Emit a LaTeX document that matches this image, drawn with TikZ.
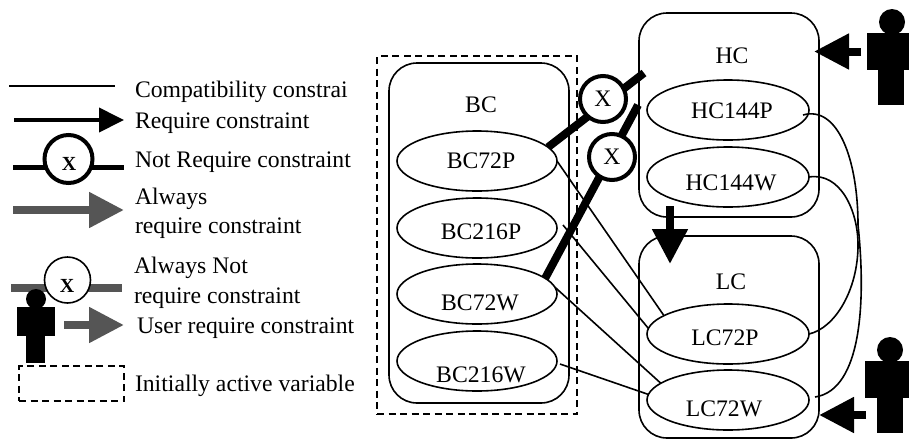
\documentclass[tikz,border=0pt]{standalone}
\usepackage{fontspec}
\setmainfont{Liberation Serif}
\usetikzlibrary{arrows.meta,shapes.geometric}
\definecolor{grayc}{HTML}{555555}
\tikzset{
  txt/.style={inner sep=0pt,outer sep=0pt,anchor=base west,font=\fontsize{23.7}{28}\selectfont},
  vartxt/.style={inner sep=0pt,outer sep=0pt,anchor=base,font=\fontsize{23.7}{28}\selectfont},
  xbold/.style={inner sep=0pt,outer sep=0pt,anchor=base,font=\fontsize{20}{24}\selectfont\bfseries},
  evar/.style={draw,ellipse,line width=1.6pt,inner sep=0pt,outer sep=0pt,minimum width=160pt,minimum height=60pt},
  ebox/.style={draw,rectangle,rounded corners=28pt,line width=1.6pt,inner sep=0pt,outer sep=0pt,minimum width=180pt},
  xcirc/.style={draw,circle,fill=white,line width=4pt,inner sep=0pt,outer sep=0pt,minimum size=46pt,font=\fontsize{23.7}{28}\selectfont},
  xcircthin/.style={draw,circle,fill=white,line width=1.6pt,inner sep=0pt,outer sep=0pt,minimum size=46pt},
  thinline/.style={line width=1.6pt},
  thickline/.style={line width=8pt},
  reqarrow/.style={line width=4pt,-{Triangle[length=25pt,width=24pt]}},
  bigarrow/.style={line width=8pt,-{Triangle[length=35pt,width=34pt]}},
  grayarrow/.style={line width=8pt,color=grayc,-{Triangle[length=35pt,width=34pt]}},
  dashedbox/.style={draw,line width=2pt,dash pattern=on 7pt off 4.5pt},
  headp/.style={fill=black,circle,inner sep=0pt,outer sep=0pt},
  bodyp/.style={fill=black,rectangle,inner sep=0pt,outer sep=0pt,anchor=north west}
}
\begin{document}
\begin{tikzpicture}[x=1pt,y=-1pt]
\useasboundingbox (0,0) rectangle (909,440);
% legend
\coordinate (l1a) at (9,85.7); \coordinate (l1b) at (115,85.7);
\draw[thinline] (l1a) -- (l1b);
\coordinate (l2a) at (14,120); \coordinate (l2b) at (124,120);
\draw[reqarrow] (l2a) -- (l2b);
\coordinate (l3a) at (13,167); \coordinate (l3b) at (124,167);
\draw[line width=5pt] (l3a) -- (l3b);
\node[xcirc,minimum size=48pt] (lx1) at (68.5,159) {};
\node[xbold] (lx1t) at (69,170) {X};
\coordinate (l4a) at (13,210); \coordinate (l4b) at (124,210);
\draw[grayarrow] (l4a) -- (l4b);
\coordinate (l5a) at (11,288); \coordinate (l5b) at (122,288);
\draw[line width=8pt,color=grayc] (l5a) -- (l5b);
\node[xcircthin] (lx2) at (67.5,280) {};
\node[xbold] (lx2t) at (67,292) {X};
\node[headp,minimum size=20pt] (lph) at (36,299) {};
\node[bodyp,minimum width=38pt,minimum height=29pt] (lpb) at (17,307) {};
\node[bodyp,minimum width=19pt,minimum height=28pt] (lpl) at (26,335) {};
\coordinate (l6a) at (64,325); \coordinate (l6b) at (124,325);
\draw[grayarrow] (l6a) -- (l6b);
\node[dashedbox,rectangle,inner sep=0pt,outer sep=0pt,minimum width=105pt,minimum height=35pt,anchor=north west] (ldash) at (19,366) {};
\node[txt] (t1) at (135,97) {Compatibility constrai};
\node[txt] (t2) at (135,128) {Require constraint};
\node[txt] (t3) at (135,167) {Not Require constraint};
\node[txt] (t4) at (135,204) {Always};
\node[txt] (t5) at (135,233) {require constraint};
\node[txt] (t6) at (134,273) {Always Not};
\node[txt] (t7) at (134,303) {require constraint};
\node[txt] (t8) at (137,333) {User require constraint};
\node[txt] (t9) at (135,391) {Initially active variable};
% BC
\node[dashedbox,rectangle,inner sep=0pt,outer sep=0pt,minimum width=200pt,minimum height=358pt,anchor=north west] (bcdash) at (377,56) {};
\node[ebox,minimum height=340pt,anchor=north west] (BC) at (389,63) {};
\node[vartxt] (tBC) at (481,112) {BC};
\node[evar] (BC72P) at (477,161) {};
\node[vartxt] (tBC72P) at (481,168) {BC72P};
\node[evar] (BC216P) at (477,228) {};
\node[vartxt] (tBC216P) at (481,239) {BC216P};
\node[evar] (BC72W) at (477,294) {};
\node[vartxt] (tBC72W) at (480,310) {BC72W};
\node[evar] (BC216W) at (477,361) {};
\node[vartxt] (tBC216W) at (481,382) {BC216W};
% HC
\node[ebox,minimum height=204pt,anchor=north west] (HC) at (639,13) {};
\node[vartxt] (tHC) at (732,63) {HC};
\node[evar,minimum width=162pt] (HC144P) at (728,110) {};
\node[vartxt] (tHC144P) at (732,118) {HC144P};
\node[evar,minimum width=162pt] (HC144W) at (728,177) {};
\node[vartxt] (tHC144W) at (731,190) {HC144W};
% LC
\node[ebox,minimum height=202pt,anchor=north west] (LC) at (639,236) {};
\node[vartxt] (tLC) at (731,289) {LC};
\node[evar,minimum width=162pt] (LC72P) at (728,334) {};
\node[vartxt] (tLC72P) at (725,345) {LC72P};
\node[evar,minimum width=162pt] (LC72W) at (728,400) {};
\node[vartxt] (tLC72W) at (724,416) {LC72W};
% thin connectors
\draw[thinline] (BC72P.east) -- (LC72P.164);
\draw[thinline] ([xshift=6pt,yshift=3pt]BC216P.east) -- (LC72P.176);
\draw[thinline] (BC72W.5) -- (LC72W.166);
\draw[thinline] ([xshift=3pt,yshift=-3pt]BC216W.east) -- (LC72W.176);
\draw[thinline] ([xshift=-6pt,yshift=-5pt]HC144P.east) .. controls (838,105) and (858,160) .. (858,225)
  .. controls (866,300) and (862,390) .. ([xshift=6pt,yshift=3pt]LC72W.east);
\draw[thinline] (HC144W.east) .. controls (840,172) and (858,210) .. (858,245)
  .. controls (858,290) and (835,328) .. (LC72P.east);
% thick connectors
\coordinate (hca) at (644,73);
\coordinate (hcb) at (638,105);
\draw[thickline] (BC72P.11) -- (hca);
\draw[thickline] (BC72W.13) -- (hcb);
\node[xcirc] (x1) at (603,99) {X};
\node[xcirc] (x2) at (612,157) {X};
% HC to LC
\draw[bigarrow] ([xshift=-59pt,yshift=11pt]HC.south) -- ([xshift=-59pt,yshift=-28pt]LC.north);
% top user
\node[headp,minimum size=26pt] (u1h) at (892,22) {};
\node[bodyp,minimum width=42pt,minimum height=37pt] (u1b) at (867,33) {};
\node[bodyp,minimum width=26pt,minimum height=36pt] (u1l) at (878,69) {};
\draw[bigarrow] ([xshift=-6pt]u1b.west) -- ([xshift=-5pt]HC.east |- u1b.west);
% bottom user
\node[headp,minimum size=26pt] (u2h) at (890,350) {};
\node[bodyp,minimum width=44pt,minimum height=37pt] (u2b) at (865,361) {};
\node[bodyp,minimum width=26pt,minimum height=36pt] (u2l) at (877,397) {};
\coordinate (u2a) at (866,415);
\draw[bigarrow] (u2a) -- (LC.east |- u2a);
\end{tikzpicture}
\end{document}
